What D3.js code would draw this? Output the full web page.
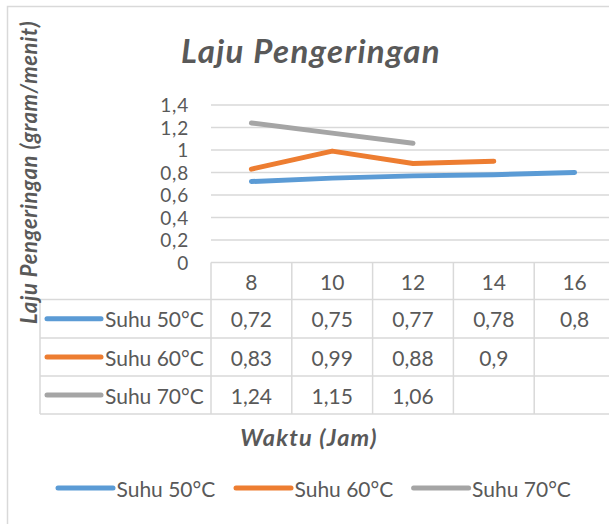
<!DOCTYPE html>
<html>
<head>
<meta charset="utf-8">
<script src="https://cdn.jsdelivr.net/npm/d3@7"></script>
<style>
  html, body { margin: 0; padding: 0; background: #fff; }
  svg { display: block; }
  text { font-family: Lato, "Open Sans", sans-serif; fill: #595959; }
</style>
</head>
<body>
<svg id="chart" width="609" height="524"></svg>
<script>
// ---- data ----
const categories = [8, 10, 12, 14, 16];
const seriesNames = ["Suhu 50°C", "Suhu 60°C", "Suhu 70°C"];
const suhu50 = [0.72, 0.75, 0.77, 0.78, 0.8];
const suhu60 = [0.83, 0.99, 0.88, 0.9, null];
const suhu70 = [1.24, 1.15, 1.06, null, null];
const yTicks = [0, 0.2, 0.4, 0.6, 0.8, 1, 1.2, 1.4];
const seriesColors = ["#5B9BD5", "#ED7D31", "#A5A5A5"];
const titleText = "Laju Pengeringan";
const yTitleText = "Laju Pengeringan (gram/menit)";
const xTitleText = "Waktu (Jam)";

const series = [suhu50, suhu60, suhu70].map((vals, i) => ({
  name: seriesNames[i], color: seriesColors[i], values: vals
}));

const fmt = v => String(v).replace(".", ",");
const grid = "#D9D9D9";

const svg = d3.select("#chart");

// chart border
svg.append("rect").attr("x", 7.5).attr("y", 6.5).attr("width", 620).attr("height", 540)
  .attr("fill", "none").attr("stroke", grid).attr("stroke-width", 1.5);

const plotLeft = 211, colW = 80.8;
const x = d3.scaleBand().domain(categories).range([plotLeft, plotLeft + colW * categories.length]).paddingInner(0).paddingOuter(0);
const y = d3.scaleLinear().domain([0, 1.4]).range([262.5, 105]);

// gridlines
svg.append("g").selectAll("line").data(yTicks.slice(1)).join("line")
  .attr("x1", plotLeft).attr("x2", 640)
  .attr("y1", d => y(d)).attr("y2", d => y(d))
  .attr("stroke", grid).attr("stroke-width", 1.5);

// y axis labels
const yAxis = d3.axisLeft(y).tickValues(yTicks).tickFormat(fmt).tickSize(0).tickPadding(0);
const yg = svg.append("g").attr("transform", "translate(189,0)").call(yAxis);
yg.select(".domain").remove();
yg.selectAll("text").style("font-size", "19px").style("font-family", "Lato, sans-serif")
  .style("letter-spacing", "0.8px")
  .attr("fill", "#595959").attr("dy", "0.36em");

// lines
const line = d3.line().defined(d => d.v != null)
  .x(d => x(d.c) + x.bandwidth() / 2).y(d => y(d.v));
svg.append("g").selectAll("path").data(series).join("path")
  .attr("d", s => line(s.values.map((v, i) => ({ c: categories[i], v }))))
  .attr("fill", "none").attr("stroke", s => s.color).attr("stroke-width", 5)
  .attr("stroke-linecap", "round").attr("stroke-linejoin", "round");

// data table
const rowLines = [262.5, 299.5, 338, 376, 414];
const tableLeft = 40;
const tableRight = plotLeft + colW * categories.length;
const tg = svg.append("g").attr("stroke", grid).attr("stroke-width", 1.5);
rowLines.forEach((ry, i) => {
  tg.append("line").attr("x1", i === 0 ? plotLeft : tableLeft).attr("x2", tableRight + 20)
    .attr("y1", ry).attr("y2", ry);
});
tg.append("line").attr("x1", tableLeft).attr("x2", tableLeft).attr("y1", rowLines[1]).attr("y2", rowLines[4]);
categories.forEach(c => {
  tg.append("line").attr("x1", x(c)).attr("x2", x(c)).attr("y1", rowLines[0]).attr("y2", rowLines[4]);
});
const fs = "21px";
// header
svg.append("g").selectAll("text").data(categories).join("text")
  .attr("x", c => x(c) + x.bandwidth() / 2).attr("y", (rowLines[0] + rowLines[1]) / 2)
  .attr("text-anchor", "middle").attr("dominant-baseline", "central")
  .style("font-size", fs).text(c => c);
// rows
series.forEach((s, si) => {
  const cy = (rowLines[si + 1] + rowLines[si + 2]) / 2;
  const g = svg.append("g");
  g.append("line").attr("x1", 47).attr("x2", 101).attr("y1", cy).attr("y2", cy)
    .attr("stroke", s.color).attr("stroke-width", 5).attr("stroke-linecap", "round");
  g.append("text").attr("x", 105).attr("y", cy).attr("dominant-baseline", "central")
    .style("font-size", fs).text(s.name);
  g.selectAll("text.v").data(s.values.map((v, i) => ({ v, c: categories[i] })).filter(d => d.v != null))
    .join("text").attr("class", "v")
    .attr("x", d => x(d.c) + x.bandwidth() / 2).attr("y", cy)
    .attr("text-anchor", "middle").attr("dominant-baseline", "central")
    .style("font-size", fs).text(d => fmt(d.v));
});

// title
svg.append("text").attr("x", 311).attr("y", 62.5).attr("text-anchor", "middle")
  .style("font-size", "33px").style("font-weight", "bold").style("font-style", "italic")
  .style("letter-spacing", "1.3px")
  .text(titleText);

// y title
svg.append("text").attr("transform", "translate(37,172.5) rotate(-90)").attr("text-anchor", "middle")
  .style("font-size", "22px").style("font-weight", "bold").style("font-style", "italic")
  .style("letter-spacing", "0.6px")
  .text(yTitleText);

// x title
svg.append("text").attr("x", 309).attr("y", 446).attr("text-anchor", "middle")
  .style("font-size", "23.5px").style("font-weight", "bold").style("font-style", "italic")
  .style("letter-spacing", "1.2px")
  .text(xTitleText);

// legend
const legendX = [58, 236, 413.6];
series.forEach((s, i) => {
  const g = svg.append("g").attr("transform", `translate(${legendX[i]},488)`);
  g.append("line").attr("x1", 0).attr("x2", 55).attr("y1", 0).attr("y2", 0)
    .attr("stroke", s.color).attr("stroke-width", 5).attr("stroke-linecap", "round");
  g.append("text").attr("x", 58.5).attr("y", 0).attr("dominant-baseline", "central")
    .style("font-size", fs).text(s.name);
});
</script>
</body>
</html>
